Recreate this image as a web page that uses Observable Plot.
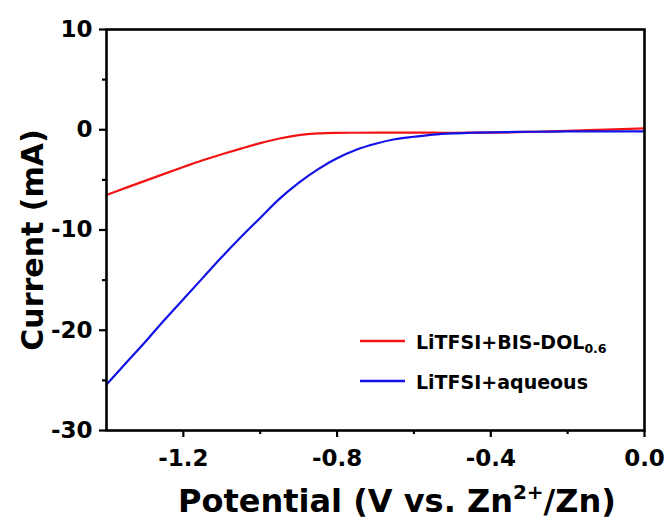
<!DOCTYPE html>
<html>
<head>
<meta charset="utf-8">
<script src="https://cdn.jsdelivr.net/npm/d3@7"></script>
<script src="https://cdn.jsdelivr.net/npm/@observablehq/plot@0.6"></script>
<style>
  html, body { margin: 0; padding: 0; background: #fff; }
</style>
</head>
<body>
<div id="chart"></div>
<script>
// Potential (V vs. Zn2+/Zn)
const potential = [-1.40,-1.35,-1.30,-1.25,-1.20,-1.15,-1.10,-1.05,-1.00,-0.95,-0.90,-0.85,-0.80,-0.75,-0.70,-0.65,-0.60,-0.55,-0.50,-0.45,-0.40,-0.30,-0.20,-0.10,0.00];
// Current (mA)
const currentBisDol = [-6.5,-5.8,-5.1,-4.4,-3.72,-3.05,-2.45,-1.88,-1.33,-0.87,-0.54,-0.37,-0.31,-0.30,-0.29,-0.28,-0.28,-0.29,-0.30,-0.29,-0.28,-0.22,-0.12,0.02,0.13];
const currentAqueous = [-25.4,-23.3,-21.2,-19.0,-16.9,-14.8,-12.7,-10.7,-8.8,-6.9,-5.3,-3.95,-2.85,-2.0,-1.4,-0.95,-0.70,-0.48,-0.36,-0.30,-0.26,-0.20,-0.17,-0.16,-0.17];

const xMajorTicks = [-1.2, -0.8, -0.4, 0.0];
const xMinorTicks = [-1.0, -0.6, -0.2];
const yMajorTicks = [10, 0, -10, -20, -30];
const yMinorTicks = [5, -5, -15, -25];

const seriesNames = ["LiTFSI+BIS-DOL", "LiTFSI+aqueous"];
const seriesColors = ["#f21414", "#1212e6"];

const redData = potential.map((x, i) => ({x, y: currentBisDol[i]}));
const blueData = potential.map((x, i) => ({x, y: currentAqueous[i]}));

const font = "DejaVu Sans";

const plot = Plot.plot({
  width: 670,
  height: 520,
  marginLeft: 106,
  marginRight: 26,
  marginTop: 29,
  marginBottom: 90,
  style: {fontFamily: font, fontSize: "23px", fontWeight: "bold", color: "#000", background: "#fff", overflow: "visible"},
  x: {domain: [-1.4, 0]},
  y: {domain: [-30, 10]},
  marks: [
    Plot.line(redData, {x: "x", y: "y", stroke: seriesColors[0], strokeWidth: 2.2, curve: "catmull-rom"}),
    Plot.line(blueData, {x: "x", y: "y", stroke: seriesColors[1], strokeWidth: 2.2, curve: "catmull-rom"}),
    Plot.frame({stroke: "#000", strokeWidth: 2.6}),
    Plot.axisX({ticks: xMajorTicks, tickSize: 7, tickPadding: 12, strokeWidth: 2.2, tickFormat: d => d.toFixed(1), label: null}),
    Plot.axisX({ticks: xMinorTicks, tickSize: 4, strokeWidth: 2.2, tickFormat: () => "", label: null}),
    Plot.axisY({ticks: yMajorTicks, tickSize: 7, tickPadding: 7, strokeWidth: 2.2, tickFormat: d => d.toFixed(0), label: null}),
    Plot.axisY({ticks: yMinorTicks, tickSize: 4, strokeWidth: 2.2, tickFormat: () => "", label: null})
  ]
});

document.getElementById("chart").appendChild(plot);

const svg = d3.select(plot);

// X axis title with superscript
const xt = svg.append("text")
  .attr("x", 178).attr("y", 512)
  .attr("text-anchor", "start")
  .attr("font-family", font).attr("font-weight", "bold").attr("font-size", 32)
  .attr("fill", "#000");
xt.append("tspan").text("Potential (V vs. Zn");
xt.append("tspan").attr("font-size", 20).attr("dy", -13).text("2+");
xt.append("tspan").attr("dy", 13).text("/Zn)");

// Y axis title
svg.append("text")
  .attr("transform", "translate(43,240) rotate(-90)")
  .attr("text-anchor", "middle")
  .attr("font-family", font).attr("font-weight", "bold").attr("font-size", 30)
  .attr("fill", "#000")
  .text("Current (mA)");

// Legend
const legend = svg.append("g").attr("text-anchor", "start");
legend.append("line").attr("x1", 360).attr("x2", 405).attr("y1", 341).attr("y2", 341)
  .attr("stroke", seriesColors[0]).attr("stroke-width", 2.5);
const l1 = legend.append("text").attr("x", 416).attr("y", 349)
  .attr("text-anchor", "start")
  .attr("font-family", font).attr("font-weight", "bold").attr("font-size", 19).attr("fill", "#000");
l1.append("tspan").text(seriesNames[0]);
l1.append("tspan").attr("font-size", 12.5).attr("dy", 4).text("0.6");

legend.append("line").attr("x1", 360).attr("x2", 405).attr("y1", 381).attr("y2", 381)
  .attr("stroke", seriesColors[1]).attr("stroke-width", 2.5);
legend.append("text").attr("x", 416).attr("y", 389)
  .attr("text-anchor", "start")
  .attr("font-family", font).attr("font-weight", "bold").attr("font-size", 19).attr("fill", "#000")
  .text(seriesNames[1]);
</script>
</body>
</html>
